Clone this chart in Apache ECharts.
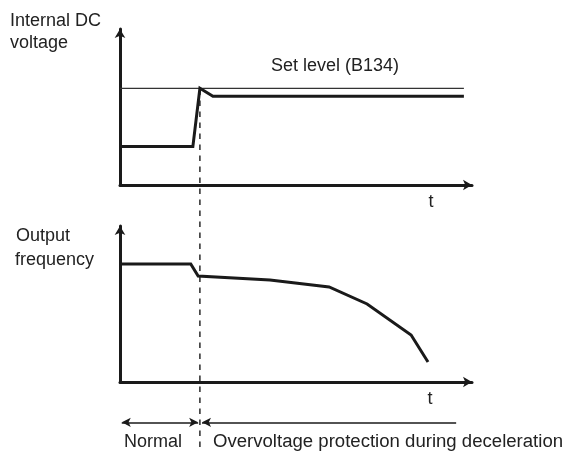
<!DOCTYPE html>
<html>
<head>
<meta charset="utf-8">
<script src="https://cdn.jsdelivr.net/npm/echarts@6/dist/echarts.min.js"></script>
<style>
html,body{margin:0;padding:0;background:#fff;}
#chart{width:568px;height:452px;}
</style>
</head>
<body>
<div id="chart"></div>
<script>
// ---- data (time in arbitrary units 0..100, levels in % of axis height) ----
var dcVoltage = [[0, 24.6], [20.7, 24.6], [22.7, 62.0], [26.4, 56.9], [97.7, 56.9]];
var setLevel = [[0, 62.0], [97.7, 62.0]];
var outputFrequency = [[0, 75.6], [20.1, 75.6], [22.2, 67.9], [42.6, 65.4], [59.4, 60.9], [70.2, 50.0], [82.7, 30.1], [87.5, 12.8]];
var switchTime = [[22.7, 0], [22.7, 1]];
var normalSpan = [0.5, 22.2];
var protectionSpan = [23.3, 95.5];
var labels = {
  topAxis: ['Internal DC', 'voltage'],
  bottomAxis: ['Output', 'frequency'],
  setLevel: 'Set level (B134)',
  time: 't',
  normal: 'Normal',
  protection: 'Overvoltage protection during deceleration'
};

var INK = '#1a1a1a';
var FONT = 'Liberation Sans, Arial, sans-serif';

function axisX(gi, show) {
  return {
    type: 'value', gridIndex: gi, min: 0, max: 100, show: show,
    axisLine: {show: show, onZero: false, lineStyle: {color: INK, width: 3}, symbol: ['none', 'arrow'], symbolSize: [8, 9]},
    axisTick: {show: false}, axisLabel: {show: false}, splitLine: {show: false}
  };
}
function axisY(gi, show, max) {
  return {
    type: 'value', gridIndex: gi, min: 0, max: max, show: show,
    axisLine: {show: show, onZero: false, lineStyle: {color: INK, width: 3}, symbol: ['none', 'arrow'], symbolSize: [8, 9]},
    axisTick: {show: false}, axisLabel: {show: false}, splitLine: {show: false}
  };
}
function txt(x, y, s, align, sx) {
  return {
    type: 'text', x: x, y: y, silent: true, scaleX: sx || 1,
    style: {text: s, fill: '#222', font: '18px ' + FONT, align: align || 'left', verticalAlign: 'middle'}
  };
}

var chart = echarts.init(document.getElementById('chart'), null, {renderer: 'canvas'});
chart.setOption({
  animation: false,
  backgroundColor: '#fff',
  grid: [
    {left: 120, top: 29, width: 352, height: 156},
    {left: 120, top: 226, width: 352, height: 156},
    {left: 120, top: 88.3, width: 352, height: 358.7},
    {left: 120, top: 412.3, width: 352, height: 20}
  ],
  xAxis: [axisX(0, true), axisX(1, true), axisX(2, false), axisX(3, false)],
  yAxis: [axisY(0, true, 100), axisY(1, true, 100), axisY(2, false, 1), axisY(3, false, 2)],
  series: [
    {type: 'line', xAxisIndex: 0, yAxisIndex: 0, data: setLevel, symbol: 'none', silent: true,
     lineStyle: {color: '#333', width: 1.2}},
    {type: 'line', xAxisIndex: 0, yAxisIndex: 0, data: dcVoltage, symbol: 'none', silent: true,
     lineStyle: {color: INK, width: 3, join: 'miter'}},
    {type: 'line', xAxisIndex: 1, yAxisIndex: 1, data: outputFrequency, symbol: 'none', silent: true,
     lineStyle: {color: INK, width: 3, join: 'miter'}},
    {type: 'line', xAxisIndex: 2, yAxisIndex: 2, data: switchTime, symbol: 'none', silent: true, clip: false,
     lineStyle: {color: INK, width: 1.4, type: [5.5, 5.5]}},
    {type: 'line', xAxisIndex: 3, yAxisIndex: 3, data: [], symbol: 'none', silent: true, clip: false,
     markLine: {
       silent: true, animation: false,
       symbolSize: [7, 9],
       label: {show: false},
       lineStyle: {color: INK, width: 1.5, type: 'solid'},
       data: [
         [{coord: [normalSpan[0], 1], symbol: 'arrow'}, {coord: [normalSpan[1], 1], symbol: 'arrow'}],
         [{coord: [protectionSpan[0], 1], symbol: 'arrow'}, {coord: [protectionSpan[1], 1], symbol: 'none'}]
       ]
     }}
  ],
  graphic: [
    txt(10, 21, labels.topAxis[0]),
    txt(10, 43, labels.topAxis[1]),
    txt(16, 236, labels.bottomAxis[0]),
    txt(15, 260, labels.bottomAxis[1]),
    txt(271, 66, labels.setLevel),
    txt(431, 202, labels.time, 'center'),
    txt(430, 399, labels.time, 'center'),
    txt(124, 442, labels.normal),
    txt(213, 442, labels.protection, 'left', 1.032)
  ]
});
</script>
</body>
</html>
